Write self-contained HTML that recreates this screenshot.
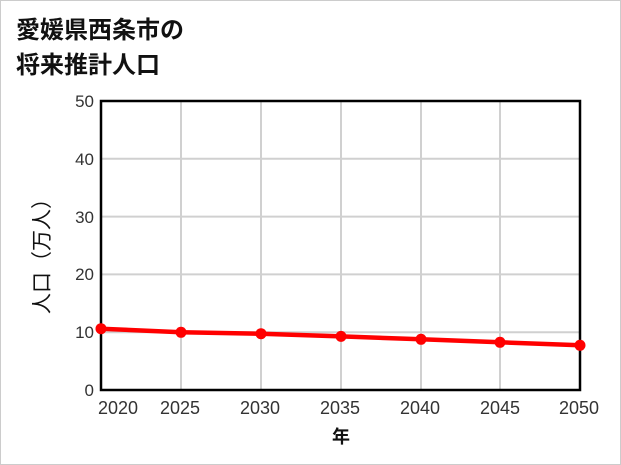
<!DOCTYPE html>
<html><head><meta charset="utf-8"><style>
html,body{margin:0;padding:0;background:#fff;}
body{width:621px;height:465px;overflow:hidden;}
svg{display:block;}
</style></head><body>
<svg width="621" height="465" viewBox="0 0 621 465" xmlns="http://www.w3.org/2000/svg">
<rect x="0.5" y="0.5" width="620" height="464" fill="#fff" stroke="#cccccc" stroke-width="1"/>
<g font-family="'Liberation Sans','Noto Sans CJK JP',sans-serif" font-weight="bold" font-size="24" fill="#111">
<text x="16" y="38">愛媛県西条市の</text>
<text x="16" y="73">将来推計人口</text>
</g>
<!-- grid -->
<g stroke="#d0d0d0" stroke-width="2">
<line x1="181" y1="101" x2="181" y2="390"/>
<line x1="261" y1="101" x2="261" y2="390"/>
<line x1="341" y1="101" x2="341" y2="390"/>
<line x1="421" y1="101" x2="421" y2="390"/>
<line x1="500" y1="101" x2="500" y2="390"/>
<line x1="101" y1="158.8" x2="580" y2="158.8"/>
<line x1="101" y1="216.6" x2="580" y2="216.6"/>
<line x1="101" y1="274.4" x2="580" y2="274.4"/>
<line x1="101" y1="332.2" x2="580" y2="332.2"/>
</g>
<rect x="101" y="101" width="479" height="289" fill="none" stroke="#000" stroke-width="2.5"/>
<!-- y ticks -->
<g font-family="'Liberation Sans',sans-serif" font-size="17" fill="#333" text-anchor="end">
<text x="94" y="107">50</text>
<text x="94" y="165">40</text>
<text x="94" y="223">30</text>
<text x="94" y="280">20</text>
<text x="94" y="338">10</text>
<text x="94" y="396">0</text>
</g>
<!-- x ticks -->
<g font-family="'Liberation Sans',sans-serif" font-size="18" fill="#333" text-anchor="middle">
<text x="118" y="414">2020</text>
<text x="180" y="414">2025</text>
<text x="260" y="414">2030</text>
<text x="340" y="414">2035</text>
<text x="420" y="414">2040</text>
<text x="500" y="414">2045</text>
<text x="579" y="414">2050</text>
</g>
<text x="341" y="443" font-family="'Liberation Sans','Noto Sans CJK JP',sans-serif" font-size="18" font-weight="bold" fill="#111" text-anchor="middle">年</text>
<text transform="translate(49,251) rotate(-90)" font-family="'Liberation Sans','Noto Sans CJK JP',sans-serif" font-size="21" fill="#111" text-anchor="middle">人口（万人）</text>
<!-- series -->
<polyline fill="none" stroke="#ff0000" stroke-width="4.5" stroke-linejoin="round" points="101,328.7 181,332.3 261,333.7 341,336.4 421,339.3 500,342.3 580,345.3"/>
<g fill="#ff0000">
<circle cx="101" cy="328.7" r="5.5"/>
<circle cx="181" cy="332.3" r="5.5"/>
<circle cx="261" cy="333.7" r="5.5"/>
<circle cx="341" cy="336.4" r="5.5"/>
<circle cx="421" cy="339.3" r="5.5"/>
<circle cx="500" cy="342.3" r="5.5"/>
<circle cx="580" cy="345.3" r="5.5"/>
</g>
</svg>
</body></html>
